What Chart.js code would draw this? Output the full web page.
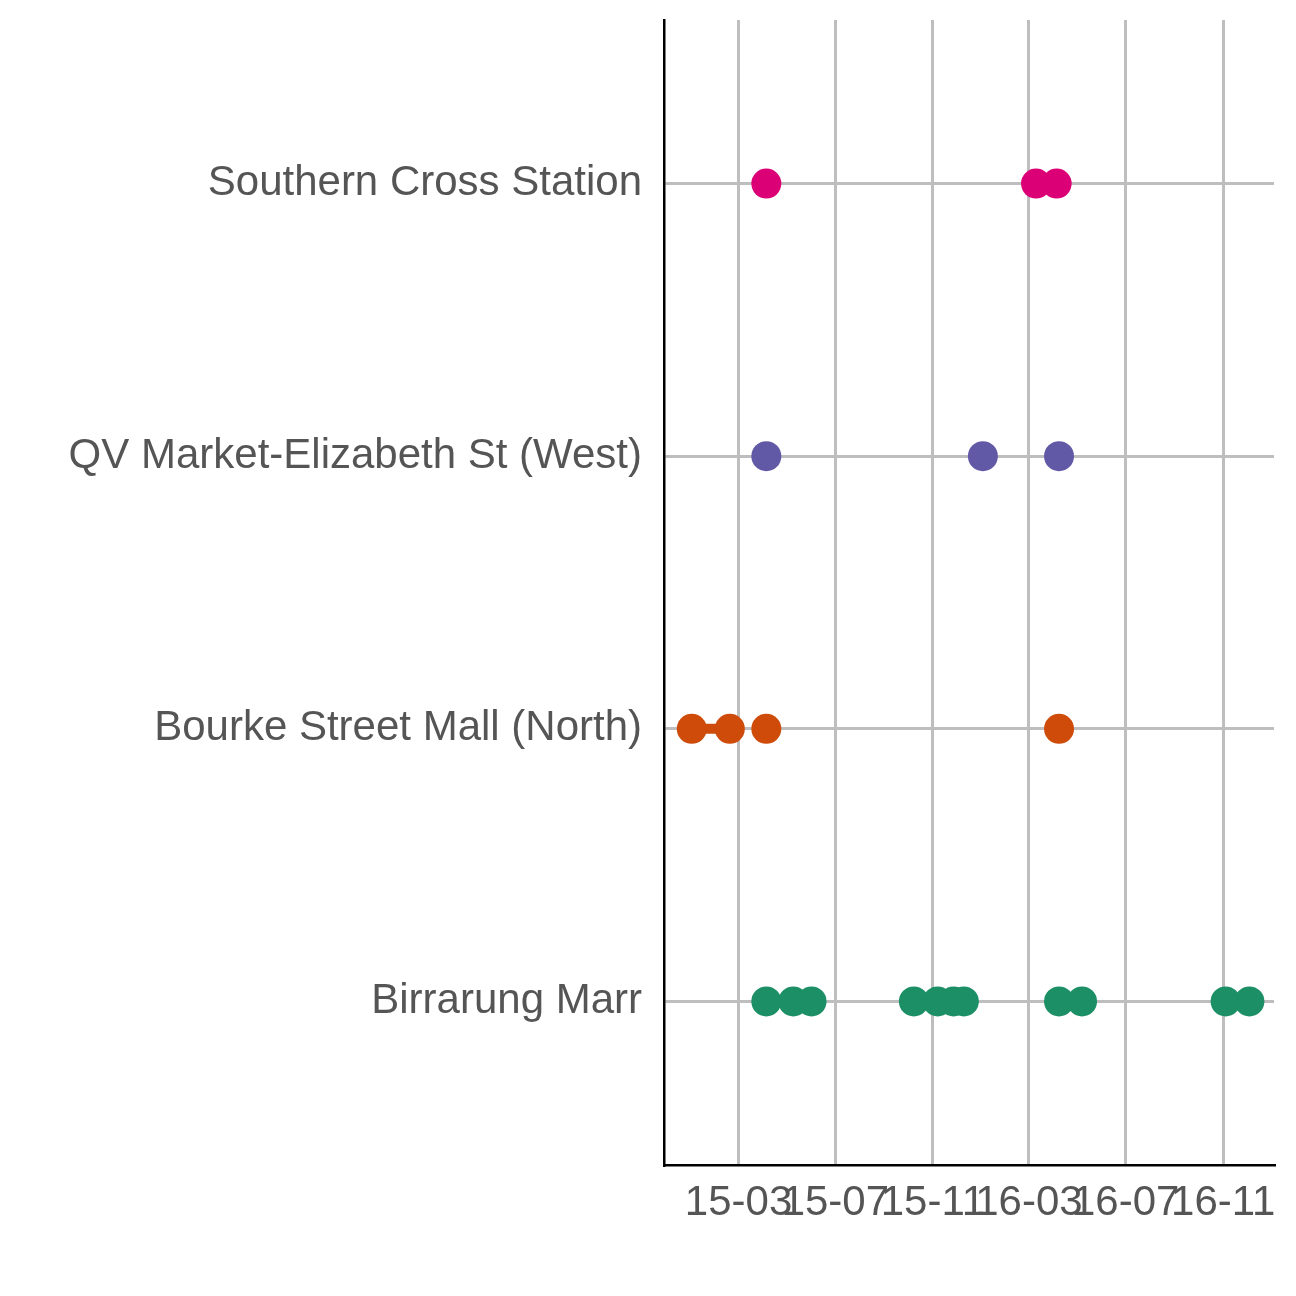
<!DOCTYPE html>
<html>
<head>
<meta charset="utf-8">
<script src="https://cdn.jsdelivr.net/npm/chart.js@4"></script>
<style>
  html, body { margin: 0; padding: 0; background: #fff; }
  #wrap { width: 1296px; height: 1296px; }
</style>
</head>
<body>
<div id="wrap"><canvas id="chart" width="1296" height="1296"></canvas></div>
<script>
// sensor locations, bottom to top
const locations = ['Birrarung Marr', 'Bourke Street Mall (North)', 'QV Market-Elizabeth St (West)', 'Southern Cross Station'];
const colors = ['#1d8f66', '#ce4b0a', '#6159a6', '#dc0077'];

// dates per location
const birrarungDates = ['2015-04-05', '2015-05-09', '2015-06-01', '2015-10-08', '2015-11-07', '2015-11-27', '2015-12-10', '2016-04-08', '2016-05-07', '2016-11-04', '2016-12-04'];
const bourkeDates = ['2015-01-01', '2015-02-18', '2015-04-05', '2016-04-08'];
const qvDates = ['2015-04-05', '2016-01-03', '2016-04-08'];
const southernDates = ['2015-04-05', '2016-03-10', '2016-04-05'];
// the one connected pair (Bourke St)
const bourkeSegment = ['2015-01-01', '2015-02-18'];

const tickDates = ['2015-03-01', '2015-07-01', '2015-11-01', '2016-03-01', '2016-07-01', '2016-11-01'];
const tickLabels = ['15-03', '15-07', '15-11', '16-03', '16-07', '16-11'];
const xRange = ['2014-11-27', '2017-01-04'];

const day = s => {
    const [y, m, d] = s.split('-').map(Number);
    return Date.UTC(y, m - 1, d) / 86400000;
};

const allDates = [birrarungDates, bourkeDates, qvDates, southernDates];
const pointSets = allDates.map((dates, i) => ({
    type: 'scatter',
    data: dates.map(d => ({ x: day(d), y: i })),
    backgroundColor: colors[i],
    borderWidth: 0,
    pointRadius: 15,
    pointHoverRadius: 15,
    order: 1
}));

const segmentSet = {
    type: 'line',
    data: bourkeSegment.map(d => ({ x: day(d), y: 1 })),
    borderColor: colors[1],
    borderWidth: 10,
    pointRadius: 0,
    order: 2
};

const tickVals = tickDates.map(day);
const family = '"Liberation Sans", Arial, sans-serif';

new Chart(document.getElementById('chart'), {
    data: { datasets: [segmentSet, ...pointSets] },
    options: {
        responsive: false,
        animation: false,
        layout: { padding: { top: 0, right: 22, left: 0, bottom: 0 } },
        plugins: { legend: { display: false }, tooltip: { enabled: false } },
        scales: {
            x: {
                type: 'linear',
                min: day(xRange[0]),
                max: day(xRange[1]),
                afterBuildTicks: s => { s.ticks = tickVals.map(v => ({ value: v })); },
                afterFit: s => { s.height = 131; },
                grid: { color: '#bebebe', lineWidth: 3, drawTicks: false },
                border: { display: true, color: '#000', width: 2.5 },
                ticks: {
                    color: '#555',
                    font: { family: family, size: 42 },
                    padding: 13,
                    maxRotation: 0,
                    autoSkip: false,
                    callback: v => tickLabels[tickVals.indexOf(v)]
                }
            },
            y: {
                type: 'linear',
                min: -0.6,
                max: 3.6,
                afterBuildTicks: s => { s.ticks = [0, 1, 2, 3].map(v => ({ value: v })); },
                afterFit: s => { s.width = 664; s.paddingTop = 20; },
                grid: { color: '#bebebe', lineWidth: 3, drawTicks: false },
                border: { display: true, color: '#000', width: 2.5 },
                ticks: {
                    color: '#555',
                    font: { family: family, size: 42, lineHeight: 0.95 },
                    padding: 22,
                    autoSkip: false,
                    callback: v => locations[v]
                }
            }
        }
    }
});
</script>
</body>
</html>
